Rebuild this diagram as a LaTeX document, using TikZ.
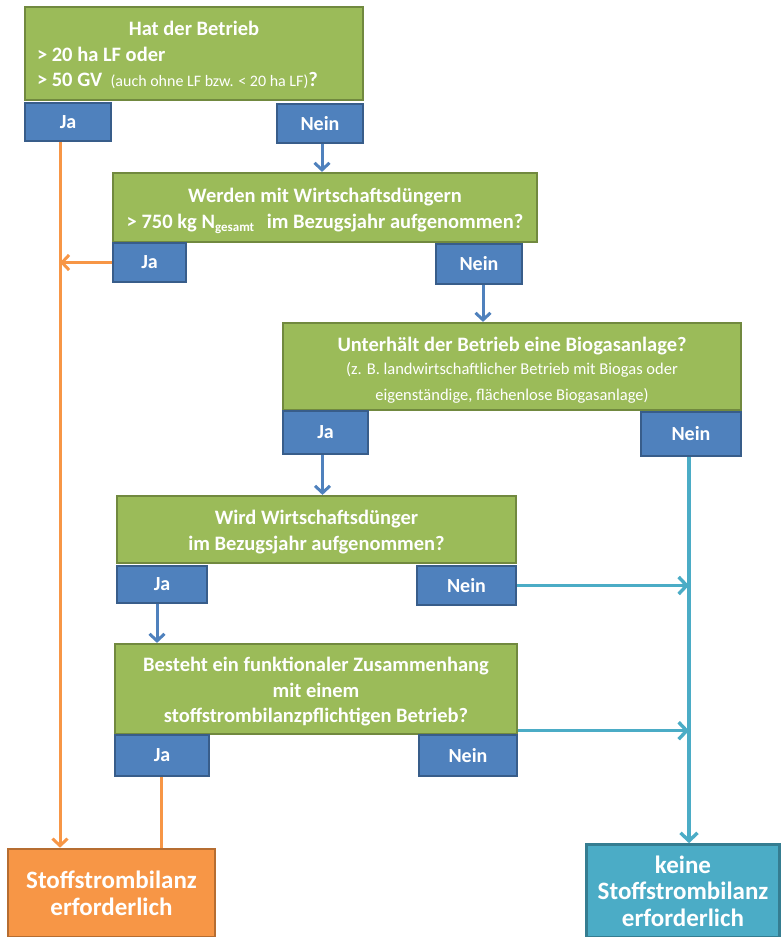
\documentclass[tikz,border=0pt]{standalone}
\usepackage{fontspec}
\setmainfont{Carlito}
\usetikzlibrary{arrows.meta}
\definecolor{gfill}{HTML}{9BBB59}
\definecolor{gline}{HTML}{71893F}
\definecolor{bfill}{HTML}{4F81BD}
\definecolor{bline}{HTML}{385D8A}
\definecolor{ofill}{HTML}{F79646}
\definecolor{oline}{HTML}{B66D31}
\definecolor{cfill}{HTML}{4BACC6}
\definecolor{cline}{HTML}{357D91}
\tikzset{
  qbox/.style={draw=gline, fill=gfill, line width=2.2pt, inner sep=0pt, text=white,
    align=center, font=\bfseries\fontsize{20.5}{25.5}\selectfont},
  qtext/.style={inner sep=0pt, text=white, align=center, font=\bfseries\fontsize{20.5}{25.5}\selectfont},
  ans/.style={draw=bline, fill=bfill, line width=2.6pt, inner sep=0pt, text=white,
    font=\bfseries\fontsize{20}{22}\selectfont},
  resO/.style={draw=oline, fill=ofill, line width=2.6pt, inner sep=0pt, text=white,
    align=center, font=\bfseries\fontsize{25}{27}\selectfont},
  resC/.style={draw=cline, fill=cfill, line width=2.6pt, inner sep=0pt, text=white,
    align=center, font=\bfseries\fontsize{25}{26.5}\selectfont},
  barrow/.style={draw=bfill, line width=3pt, -{Straight Barb[length=7pt,width=15pt,line width=3pt]}},
  oarrow/.style={draw=ofill, line width=3pt, -{Straight Barb[length=7pt,width=15pt,line width=3pt]}},
  oline/.style={draw=ofill, line width=3pt},
  carrow/.style={draw=cfill, line width=3.4pt, -{Straight Barb[length=8pt,width=17pt,line width=3.4pt]}},
}
\newcommand{\smalltxt}{\mdseries\fontsize{16}{21}\selectfont}
\newcommand{\subtxt}{\mdseries\fontsize{16.5}{21}\selectfont}
\begin{document}
\begin{tikzpicture}[x=1pt,y=-1pt]
\useasboundingbox (0,0) rectangle (780,937);

% Box 1
\node[qbox, minimum width=338pt, minimum height=93pt] (q1) at (194,53.5) {};
\node[qtext, align=left] (t1) at (194,55)
  {\makebox[314pt]{Hat der Betrieb}\\
   \textgreater{} 20 ha LF oder\\
   \textgreater{} 50 GV {\smalltxt\ (auch ohne LF bzw. \textless{} 20 ha LF)}?};
\node[ans, minimum width=86pt, minimum height=38pt] (ja1) at (68,122) {Ja};
\node[ans, minimum width=86pt, minimum height=39pt] (nein1) at (320,123.5) {Nein};

% Box 2
\node[qbox, minimum width=424pt, minimum height=69pt] (q2) at (325,207.5) {};
\node[qtext] (t2) at (325,211)
  {Werden mit Wirtschaftsdüngern\\
   \textgreater{} 750 kg N\raisebox{-0.35ex}{\fontsize{13}{13}\selectfont gesamt}\hspace{8pt} im Bezugsjahr aufgenommen?};
\node[ans, minimum width=73pt, minimum height=39pt] (ja2) at (149.5,262.5) {Ja};
\node[ans, minimum width=86pt, minimum height=40pt] (nein2) at (479,264) {Nein};

% Box 3
\node[qbox, minimum width=458pt, minimum height=87pt] (q3) at (512,366.5) {};
\node[qtext] (t3) at (512,370)
  {Unterhält der Betrieb eine Biogasanlage?\\[-2pt]
   \subtxt (z. B. landwirtschaftlicher Betrieb mit Biogas oder\\
   \subtxt eigenständige, flächenlose Biogasanlage)};
\node[ans, minimum width=85pt, minimum height=43pt] (ja3) at (325.5,432.5) {Ja};
\node[ans, minimum width=100pt, minimum height=44pt] (nein3) at (691,434) {Nein};

% Box 4
\node[qbox, minimum width=399pt, minimum height=67pt] (q4) at (316.5,529.5) {};
\node[qtext] (t4) at (316.5,532)
  {Wird Wirtschaftsdünger\\ im Bezugsjahr aufgenommen?};
\node[ans, minimum width=90pt, minimum height=37pt] (ja4) at (162,584.5) {Ja};
\node[ans, minimum width=99pt, minimum height=39pt] (nein4) at (466.5,585.5) {Nein};

% Box 5
\node[qbox, minimum width=402pt, minimum height=90pt] (q5) at (316,689) {};
\node[qtext] (t5) at (316,692)
  {Besteht ein funktionaler Zusammenhang\\ mit einem\\ stoffstrombilanzpflichtigen Betrieb?};
\node[ans, minimum width=94pt, minimum height=41pt] (ja5) at (162,755.5) {Ja};
\node[ans, minimum width=98pt, minimum height=41pt] (nein5) at (468,755.5) {Nein};

% Results
\node[resO, minimum width=207pt, minimum height=88pt] (rO) at (111.5,893)
  {Stoffstrombilanz\\ erforderlich};
\node[resC, minimum width=193pt, minimum height=93pt] (rC) at (683,891)
  {keine\\ Stoffstrombilanz\\ erforderlich};

% helper coordinates
\coordinate (oj) at ([xshift=-8pt]ja1.south);
\coordinate (cn) at ([xshift=-2pt]nein3.south);

% Connectors
\draw[barrow] ([xshift=2pt]nein1.south) -- ([xshift=2pt]nein1.south |- q2.north);
\draw[oarrow] (oj) -- (oj |- rO.north);
\draw[oarrow] (ja2.west) -- (ja2.west -| oj);
\draw[barrow] ([xshift=4pt]nein2.south) -- ([xshift=4pt]nein2.south |- q3.north);
\draw[barrow] ([xshift=-3pt]ja3.south) -- ([xshift=-3pt]ja3.south |- q4.north);
\draw[carrow] (cn) -- (cn |- rC.north);
\draw[carrow] (nein4.east) -- (nein4.east -| cn);
\draw[barrow] ([xshift=-5pt]ja4.south) -- ([xshift=-5pt]ja4.south |- q5.north);
\draw[carrow] ([yshift=3pt]nein5.north east) -- ([yshift=3pt]nein5.north east -| cn);
\draw[oline] ([xshift=-1pt]ja5.south) -- ([xshift=-1pt]ja5.south |- rO.north);
\end{tikzpicture}
\end{document}
